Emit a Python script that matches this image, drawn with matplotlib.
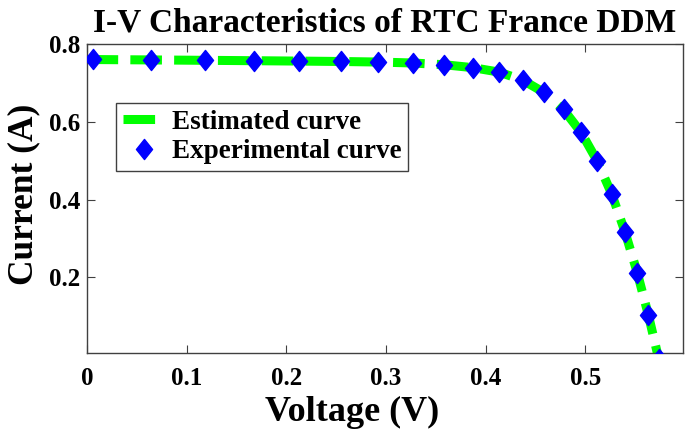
import matplotlib.pyplot as plt
from matplotlib.path import Path

# RTC France cell, double diode model
voltage = [-0.2057, -0.1291, -0.0588, 0.0057, 0.0646, 0.1185, 0.1678, 0.2132,
           0.2545, 0.2924, 0.3269, 0.3585, 0.3873, 0.4137, 0.4373, 0.4590,
           0.4784, 0.4960, 0.5119, 0.5265, 0.5398, 0.5521, 0.5633, 0.5736,
           0.5833, 0.5900]
current_exp = [0.7640, 0.7620, 0.7605, 0.7605, 0.7600, 0.7590, 0.7570, 0.7570,
               0.7555, 0.7540, 0.7505, 0.7465, 0.7385, 0.7280, 0.7065, 0.6755,
               0.6320, 0.5730, 0.4990, 0.4130, 0.3165, 0.2120, 0.1035, -0.0100,
               -0.1230, -0.2100]
current_est = [0.7640, 0.7626, 0.7613, 0.7601, 0.7591, 0.7581, 0.7571, 0.7561,
               0.7551, 0.7537, 0.7512, 0.7467, 0.7392, 0.7277, 0.7070, 0.6747,
               0.6307, 0.5719, 0.4995, 0.4142, 0.3173, 0.2123, 0.1030, -0.0093,
               -0.1244, -0.2079]
xticks = [0, 0.1, 0.2, 0.3, 0.4, 0.5]
yticks = [0.2, 0.4, 0.6, 0.8]

plt.rcParams['font.family'] = ['Liberation Serif', 'DejaVu Serif']
plt.rcParams['font.weight'] = 'bold'

# diamond a bit taller than wide, like the MATLAB one
diamond = Path([(-0.4, 0), (0, 0.5), (0.4, 0), (0, -0.5), (-0.4, 0)],
               [Path.MOVETO, Path.LINETO, Path.LINETO, Path.LINETO, Path.CLOSEPOLY])

fig = plt.figure(figsize=(6.85, 4.30), dpi=100)
ax = fig.add_axes([0.127, 0.179, 0.870, 0.7186])

ax.plot(voltage, current_est, color=(0, 1, 0), lw=6.5, dashes=(3.5, 1.35),
        label='Estimated curve', zorder=2)
ax.plot(voltage, current_exp, ls='none', marker=diamond, ms=14.5,
        color='blue', mec='blue', label='Experimental curve', zorder=3)

ax.set_xlim(0, 0.598)
ax.set_ylim(0.005, 0.8)
ax.set_xticks(xticks)
ax.set_xticklabels(['0', '0.1', '0.2', '0.3', '0.4', '0.5'])
ax.set_yticks(yticks)
ax.set_yticklabels(['0.2', '0.4', '0.6', '0.8'])
ax.tick_params(direction='in', top=True, right=True, length=6, width=0.8,
               color='0.25', labelsize=18)
ax.tick_params(axis='x', pad=10)
ax.tick_params(axis='y', pad=5)
for s in ax.spines.values():
    s.set_color('0.25')
    s.set_linewidth(1)

ax.set_title('I-V Characteristics of RTC France DDM', fontsize=24,
             fontweight='bold', pad=9)
ax.set_xlabel('Voltage (V)', fontsize=26, fontweight='bold', labelpad=4,
              x=0.445, ha='center')
ax.set_ylabel('Current (A)', fontsize=25.5, fontweight='bold', labelpad=6,
              y=0.515, ha='center')

leg = ax.legend(loc='upper left', bbox_to_anchor=(0.170, 0.760),
                bbox_transform=fig.transFigure, fontsize=19.5,
                fancybox=False, framealpha=1, edgecolor='0.25',
                handlelength=1.5, handletextpad=0.3, borderpad=0.25,
                labelspacing=0.15, borderaxespad=0)
leg.get_frame().set_linewidth(1)

fig.savefig('out.png', dpi=100)
